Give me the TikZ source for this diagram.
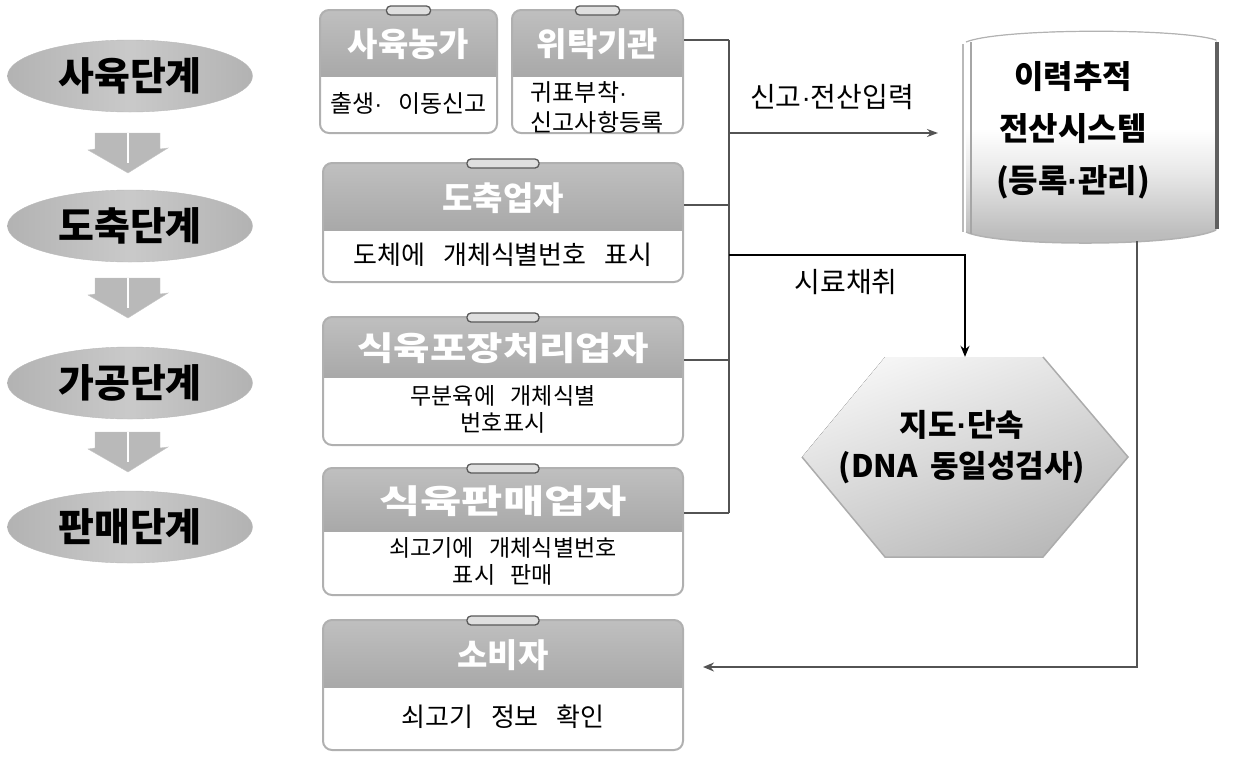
\documentclass[tikz,border=0pt]{standalone}
\usepackage{fontspec}
\usepackage{graphicx}
\setmainfont{Noto Sans CJK KR}[WordSpace=3]
\newfontfamily\dotfont{Liberation Sans}
\newcommand\mdot{{\dotfont ·}}
\usetikzlibrary{shapes.geometric,arrows.meta}
\pgfdeclareverticalshading{cylsh}{100bp}{color(0bp)=(gray!62); color(28bp)=(gray!52); color(42bp)=(gray!18); color(52bp)=(white); color(100bp)=(white)}
\tikzset{
  stage/.style={ellipse, minimum width=245pt, minimum height=72pt, inner sep=0pt,
    draw=gray!55, left color=gray!60, right color=gray!60, middle color=gray!42,
    font=\bfseries\fontsize{39}{44}\selectfont},
  blockarr/.style={fill=gray!55, draw=gray!45},
  obox/.style={draw=gray!62, line width=2pt, rounded corners=9pt, inner sep=0pt},
  headfill/.style={top color=gray!50, bottom color=gray!68},
  headtxt/.style={text=white, font=\bfseries\fontsize{33}{36}\selectfont},
  bodytxt/.style={align=center, font=\fontsize{23}{27}\selectfont},
  tabst/.style={draw=gray!70!black, fill=gray!25, line width=1.3pt, rounded corners=4pt},
  stub/.style={draw=gray!65!black, line width=1.4pt},
  bus/.style={draw=gray!65!black, line width=2pt},
  arr/.style={draw=gray!65!black, line width=1.6pt, -{Stealth[length=11pt,width=8pt]}},
  lbl/.style={font=\fontsize{28}{32}\selectfont},
  bigtxt/.style={align=center, font=\bfseries\fontsize{32}{52}\selectfont},
  hextxt/.style={align=center, font=\bfseries\fontsize{31}{41}\selectfont}
}
\newcommand\downarr[1]{%
  \filldraw[blockarr] (95,#1) -- (160,#1) -- (160,#1+16) -- (168,#1+15) -- (128,#1+40)
    -- (88,#1+17) -- (95,#1+16) -- cycle;
  \draw[white, line width=2.2pt] (128,#1) -- (128,#1+30);}
\newcommand\mkbox[9]{%
  \begin{scope}
    \clip[rounded corners=9pt] (#2,#3) rectangle (#4,#5);
    \fill[headfill] (#2,#3) rectangle (#4,#6);
    \fill[white] (#2,#6) rectangle (#4,#5);
  \end{scope}
  \node[obox, minimum width={#4-#2}, minimum height={#5-#3}] (#1) at ({(#2+#4)/2},{(#3+#5)/2}) {};
  \node[headtxt] (#1h) at ({(#2+#4)/2},{(#3+#6)/2+1}) {#7};
  \node[bodytxt] (#1b) at ({(#2+#4)/2},{(#6+#5)/2-2}) {#8};
  \draw[tabst] ({(#2+#4)/2-#9},#3-4) rectangle ({(#2+#4)/2+#9},#3+5);}
\begin{document}
\begin{tikzpicture}[x=1pt,y=-1pt]
\useasboundingbox (0,0) rectangle (1246,761);
% stages
\node[stage] (s1) at (130,76) {사육단계};
\node[stage] (s2) at (130,226) {도축단계};
\node[stage] (s3) at (130,383) {가공단계};
\node[stage] (s4) at (130,527) {판매단계};
\downarr{133}
\downarr{278}
\downarr{432}
% boxes
\mkbox{b1}{320}{10}{497}{133}{77}{사육농가}{\fontsize{24}{28}\selectfont 출생\mdot{} 이동신고}{22}
\mkbox{b2}{512}{10}{683}{133}{77}{위탁기관}{}{22}
\node[align=left, font=\fontsize{24}{30}\selectfont] (b2t) at (597,107) {귀표부착\mdot\\신고사항등록};
\mkbox{b3}{323}{163}{683}{282}{231}{도축업자}{\fontsize{26}{28}\selectfont 도체에 개체식별번호 표시}{36}
\mkbox{b4}{323}{317}{683}{445}{378}{\scalebox{1.2}[1]{식육포장처리업자}}{무분육에 개체식별\\번호표시}{36}
\mkbox{b5}{323}{468}{683}{595}{532}{\scalebox{1.36}[1]{식육판매업자}}{쇠고기에 개체식별번호\\표시 판매}{36}
\mkbox{b6}{323}{620}{683}{750}{688}{소비자}{\fontsize{26}{28}\selectfont 쇠고기 정보 확인}{36}
% cylinder
\fill[shading=cylsh] (966,42) -- (966,232) .. controls (1000,247) and (1180,247) .. (1216,230)
  -- (1216,40) .. controls (1180,28) and (1000,28) .. (966,42) -- cycle;
\draw[gray!60, line width=1.2pt] (966,42) .. controls (1000,28) and (1180,28) .. (1216,40);
\draw[gray!60, line width=1.5pt] (966,232) .. controls (1000,247) and (1180,247) .. (1216,230);
\draw[gray!55, line width=2pt] (963,44) -- (963,232);
\draw[gray!70, line width=2pt] (971,42) -- (971,234);
\draw[gray!75!black, line width=4pt] (1217,42) -- (1217,229);
\node[minimum width=257pt, minimum height=211pt, inner sep=0pt] (cyl) at (1091.5,137.5) {};
\node[bigtxt] (cylt) at (1073,130) {이력추적\\전산시스템\\(등록\mdot 관리)};
% hexagon
\node[minimum width=326pt, minimum height=200pt, inner sep=0pt] (hex) at (965,457) {};
\fill[top color=gray!8, bottom color=gray!55, shading angle=20]
  (885,357) -- (1043,357) -- (1128,457) -- (1043,557) -- (885,557) -- (802,457) -- cycle;
\draw[gray!65, line width=1.5pt] (1043,357) -- (1128,457) -- (1043,557) -- (885,557) -- (802,457);
\node[hextxt] (hext) at (962,447) {지도\mdot 단속\\(DNA\hspace{0.4em}동일성검사)};
% connectors
\coordinate (busT) at (729,40);
\coordinate (busB) at (729,513);
\coordinate (j3) at (729,205);
\coordinate (j4) at (729,360);
\coordinate (j1) at (729,133);
\coordinate (j2) at (729,255);
\coordinate (cylin) at (938,133);
\coordinate (c1) at (1137,241);
\coordinate (c2) at (1137,667);
\draw[bus] (busT) -- (busB);
\draw[stub] (b2.east |- busT) -- (busT);
\draw[stub] (b3.east |- j3) -- (j3);
\draw[stub] (b4.east |- j4) -- (j4);
\draw[stub] (b5.east |- busB) -- (busB);
\draw[arr] (j1) -- (cylin);
\draw[draw=black, line width=1.4pt, -{Stealth[length=11pt,width=9pt]}] (j2) -| (hex.north);
\draw[draw=gray!65!black, line width=2pt, shorten >=19pt, -{Stealth[open,length=11pt,width=9pt]}] (c1) -- (c2) -- (b6.east |- c2);
% labels
\node[lbl] (l1) at (832,97) {신고\mdot 전산입력};
\node[lbl] (l2) at (846,282) {시료채취};
\end{tikzpicture}
\end{document}
